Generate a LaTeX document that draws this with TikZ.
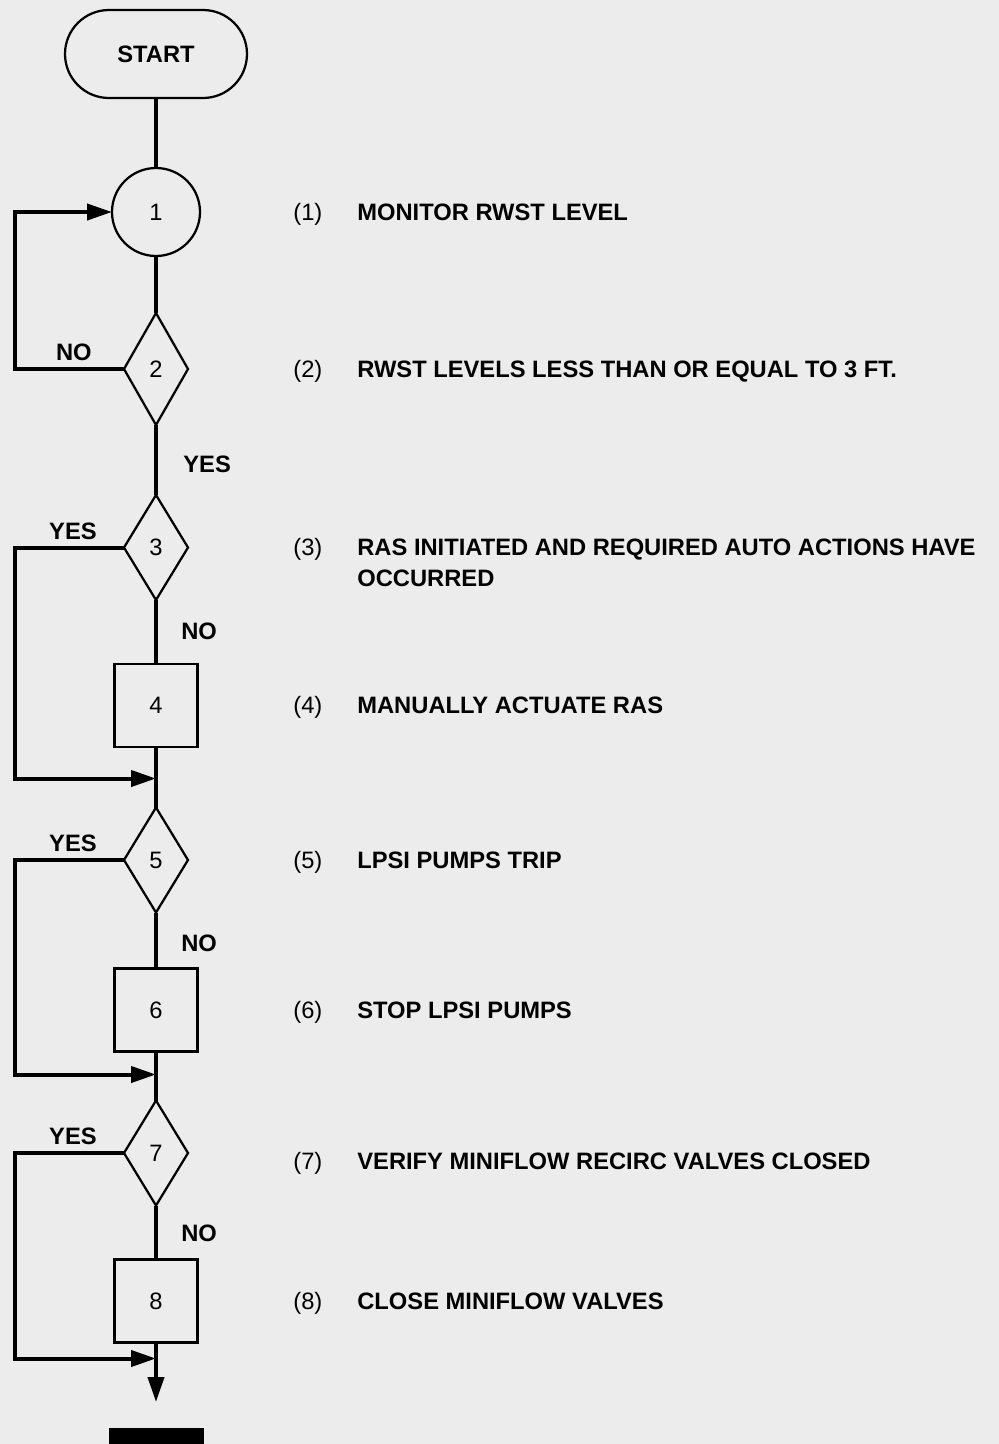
\documentclass[tikz,border=0pt]{standalone}
\usepackage{fontspec}
\setmainfont{Liberation Sans}
\usetikzlibrary{arrows.meta,positioning,shapes.geometric}
\definecolor{paper}{RGB}{236,236,236}

\begin{document}
\begin{tikzpicture}[>={Triangle[length=5mm,width=3.2mm]},
  font=\fontsize{13.5}{16}\selectfont,
  term/.style={rectangle,rounded corners=8.8mm,draw,line width=0.45mm,outer sep=0pt,minimum width=36.4mm,minimum height=17.6mm,font=\fontsize{13.5}{16}\selectfont\bfseries},
  ask/.style={circle,draw,line width=0.45mm,outer sep=0pt,minimum size=17.6mm,inner sep=0pt},
  dec/.style={diamond,draw,line width=0.45mm,outer sep=0pt,minimum width=12.8mm,minimum height=21mm,inner sep=0pt},
  act/.style={rectangle,draw,line width=0.45mm,outer sep=0pt,minimum size=16.6mm,inner sep=0pt},
  flow/.style={line width=0.8mm},
  lbl/.style={inner sep=0pt,text height=9.6pt,text depth=0pt,font=\fontsize{13.5}{16}\selectfont\bfseries},
  num/.style={inner sep=0pt,anchor=west,text height=9.6pt,text depth=0pt},
  desc/.style={lbl,anchor=west}]
\fill[paper](0,0) rectangle (199.8mm,-288.8mm);
\useasboundingbox (0,0) rectangle (199.8mm,-288.8mm);
% flow chart column
\node[term](start) at (31.2mm,-10.8mm){START};
\node[ask,below=14mm of start](c1){1};
\node[dec,minimum height=22.4mm,below=11.4mm of c1](d2){2};
\node[dec,below=14mm of d2](d3){3};
\node[act,below=12.8mm of d3](b4){4};
\node[dec,below=12.1mm of b4](d5){5};
\node[act,below=11.2mm of d5](b6){6};
\node[dec,below=9.8mm of b6](d7){7};
\node[act,below=10.8mm of d7](b8){8};
\coordinate[below=6.3mm of b4](j4);
\coordinate[below=4.6mm of b6](j6);
\coordinate[below=3.2mm of b8](j8);
\coordinate[below=11.9mm of b8](stop);
\coordinate(lx) at (3mm,0);
\node[fill=black,minimum width=19mm,minimum height=6mm,inner sep=0pt,below=5.2mm of stop](bar){};
% edges
\draw[flow](start)--(c1)--(d2)--(d3)--(b4)--(d5)--(b6)--(d7)--(b8);
\draw[flow,->](b8)--(stop);
\draw[flow,->](d2.west)--(d2.west -| lx) |- (c1);
\draw[flow,->](d3.west)--(d3.west -| lx) |- (j4);
\draw[flow,->](d5.west)--(d5.west -| lx) |- (j6);
\draw[flow,->](d7.west)--(d7.west -| lx) |- (j8);
% branch labels
\node[lbl,above left=1.6mm and 6.4mm of d2.west](no2){NO};
\node[lbl,below right=6mm and 5.4mm of d2.south](yes2){YES};
\node[lbl,above left=1.6mm and 5.4mm of d3.west](yes3){YES};
\node[lbl,below right=4.4mm and 5mm of d3.south](no3){NO};
\node[lbl,above left=1.6mm and 5.4mm of d5.west](yes5){YES};
\node[lbl,below right=4.4mm and 5mm of d5.south](no5){NO};
\node[lbl,above left=1.6mm and 5.4mm of d7.west](yes7){YES};
\node[lbl,below right=3.8mm and 5mm of d7.south](no7){NO};
% step descriptions
\coordinate(numcol) at (58.6mm,0);
\coordinate(txtcol) at (71.4mm,0);
\node[num](n1) at (c1 -| numcol){(1)};
\node[desc](t1) at (c1 -| txtcol){MONITOR RWST LEVEL};
\node[num](n2) at (d2 -| numcol){(2)};
\node[desc](t2) at (d2 -| txtcol){RWST LEVELS LESS THAN OR EQUAL TO 3 FT.};
\node[num](n3) at (d3 -| numcol){(3)};
\node[desc](t3) at (d3 -| txtcol){RAS INITIATED AND REQUIRED AUTO ACTIONS HAVE};
\node[desc,below=2.6mm of t3.south west,anchor=north west](t3b){OCCURRED};
\node[num](n4) at (b4 -| numcol){(4)};
\node[desc](t4) at (b4 -| txtcol){MANUALLY ACTUATE RAS};
\node[num](n5) at (d5 -| numcol){(5)};
\node[desc](t5) at (d5 -| txtcol){LPSI PUMPS TRIP};
\node[num](n6) at (b6 -| numcol){(6)};
\node[desc](t6) at (b6 -| txtcol){STOP LPSI PUMPS};
\node[num,yshift=-1.6mm](n7) at (d7 -| numcol){(7)};
\node[desc,yshift=-1.6mm](t7) at (d7 -| txtcol){VERIFY MINIFLOW RECIRC VALVES CLOSED};
\node[num](n8) at (b8 -| numcol){(8)};
\node[desc](t8) at (b8 -| txtcol){CLOSE MINIFLOW VALVES};
\end{tikzpicture}
\end{document}
